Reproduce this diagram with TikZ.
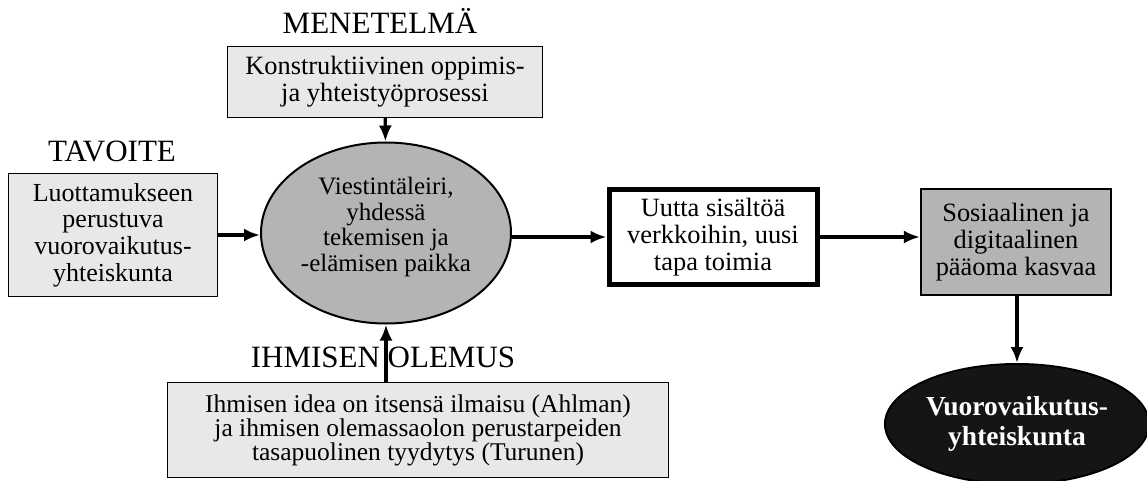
\documentclass[tikz,border=0pt]{standalone}
\usepackage{fontspec}
\setmainfont{Liberation Serif}
\usetikzlibrary{shapes.geometric,arrows.meta}

\definecolor{lightfill}{HTML}{E8E8E8}
\definecolor{midfill}{HTML}{B4B4B4}
\definecolor{darkfill}{HTML}{151515}

\begin{document}
\begin{tikzpicture}[x=1pt,y=-1pt]
        \tikzset{
            lightbox/.style = {rectangle, line width=1.3pt, draw=black, fill=lightfill, align=center, inner sep=0pt, font=\fontsize{26.4}{27}\selectfont},
            midbox/.style = {lightbox, fill=midfill, line width=2.2pt},
            thickbox/.style = {lightbox, fill=white, line width=5pt},
            myellipse/.style = {ellipse, line width=2pt, draw=black, fill=midfill, align=center, inner sep=0pt},
            mylabel/.style = {inner sep=0pt, anchor=base, font=\fontsize{31}{36}\selectfont},
            arrow/.style = {line width=3.2pt,->,>={Latex[length=16pt,width=13pt]}}
        }
        \useasboundingbox (0,0) rectangle (1147,481);

        \node (method) [mylabel] at (380,34) {MENETELMÄ};
        \node (process) [lightbox, minimum width=315pt, minimum height=71pt] at (385,82) {Konstruktiivinen oppimis-\\ja yhteistyöprosessi};
        \node (camp) [myellipse, minimum width=250pt, minimum height=181pt, text depth=17pt, font=\fontsize{25}{25.5}\selectfont] at (386,233) {Viestintäleiri,\\yhdessä\\tekemisen ja\\-elämisen paikka};
        \node (goal) [mylabel] at (112,161) {TAVOITE};
        \node (trust) [lightbox, minimum width=209pt, minimum height=123pt, font=\fontsize{26}{26.7}\selectfont] at (113,235) {Luottamukseen\\perustuva\\vuorovaikutus-\\yhteiskunta};
        \node (content) [thickbox, minimum width=208pt, minimum height=95pt] at (713,237) {Uutta sisältöä\\verkkoihin, uusi\\tapa toimia};
        \node (capital) [midbox, minimum width=190pt, minimum height=106pt] at (1016,242) {Sosiaalinen ja\\digitaalinen\\pääoma kasvaa};
        \node (society) [myellipse, fill=darkfill, text=white, minimum width=264pt, minimum height=120pt, font=\fontsize{27.5}{30}\selectfont\bfseries] at (1017,424) {Vuorovaikutus-\\yhteiskunta};
        \node (essence) [mylabel] at (383,367) {IHMISEN OLEMUS};
        \node (idea) [lightbox, minimum width=501pt, minimum height=95pt, font=\fontsize{25.5}{24}\selectfont] at (418,430) {Ihmisen idea on itsensä ilmaisu (Ahlman)\\ja ihmisen olemassaolon perustarpeiden\\tasapuolinen tyydytys (Turunen)};

        \draw [arrow] (process) -- (camp);
        \draw [arrow] (trust.east) -- (trust.east -| camp.west);
        \draw [arrow] (camp.east |- content.west) -- (content.west);
        \draw [arrow] (content.east) -- (content.east -| capital.west);
        \draw [arrow] (capital.south -| society.north) -- (society.north);
        \draw [arrow] (idea.north -| camp.south) -- (camp.south);

    \end{tikzpicture}
\end{document}
